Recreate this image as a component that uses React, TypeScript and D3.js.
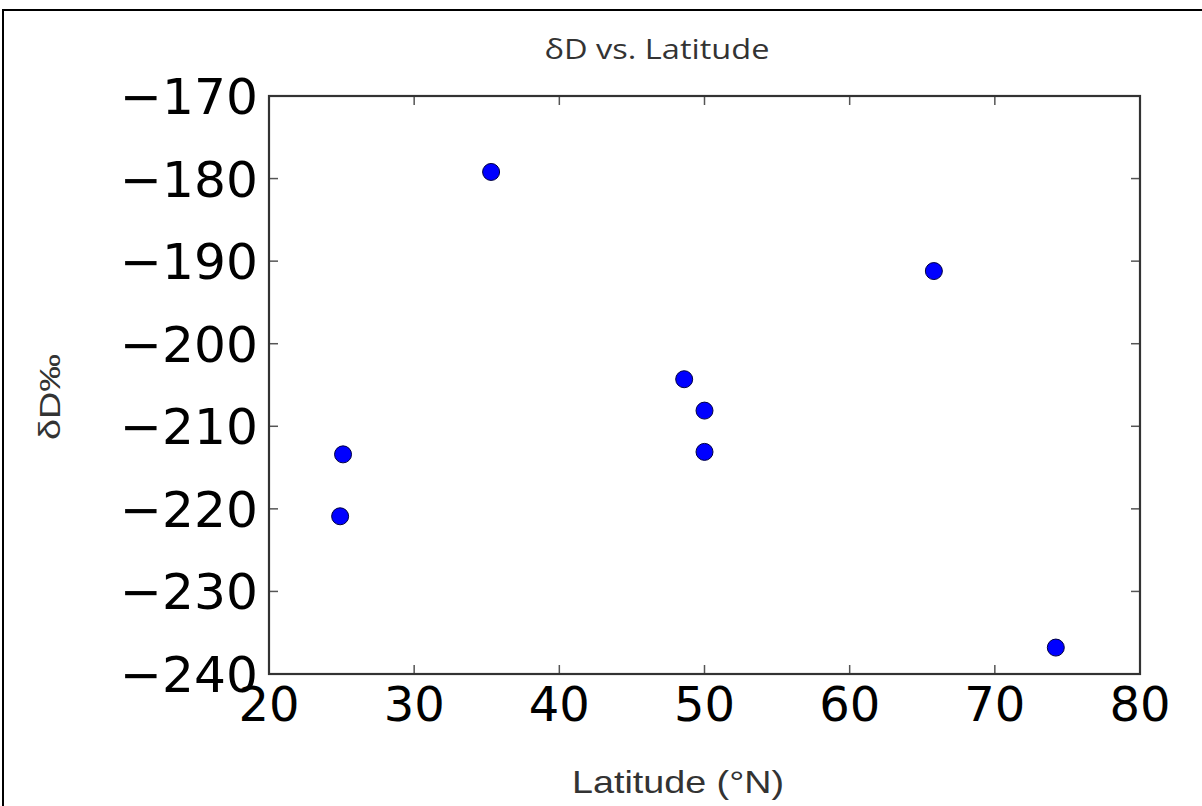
import React from "react";
import * as d3 from "d3";

const latitude = [35.3, 65.8, 48.6, 50.0, 50.0, 25.1, 24.9, 74.2];
const deltaD = [-179.2, -191.2, -204.3, -208.1, -213.1, -213.4, -220.9, -236.8];
const xTicks = [20, 30, 40, 50, 60, 70, 80];
const yTicks = [-170, -180, -190, -200, -210, -220, -230, -240];
const title = "δD vs. Latitude";
const xLabel = "Latitude (°N)";
const yLabel = "δD‰";

const W = 1202;
const H = 806;
const left = 269;
const right = 1140;
const top = 96;
const bottom = 674;

export default function App() {
  const x = d3.scaleLinear().domain([20, 80]).range([left, right]);
  const y = d3.scaleLinear().domain([-240, -170]).range([bottom, top]);
  const tickLen = 9;
  const fmt = (v: number) => (v < 0 ? "\u2212" + Math.abs(v) : String(v));
  return (
    <svg
      width={W}
      height={H}
      style={{ position: "absolute", left: 0, top: 0, background: "#fff" }}
    >
      <rect x={0} y={0} width={W} height={H} fill="#fff" />
      {/* outer frame */}
      <line x1={2} y1={10} x2={W} y2={10} stroke="#000" strokeWidth={2} />
      <line x1={3} y1={10} x2={3} y2={H} stroke="#000" strokeWidth={2} />

      <text
        x={657}
        y={59}
        textAnchor="middle"
        fontFamily="'Open Sans', sans-serif"
        fontSize={27}
        fill="#333"
        textLength={225}
        lengthAdjust="spacingAndGlyphs"
      >
        {title}
      </text>

      {/* ticks */}
      {xTicks.map((t) => (
        <g key={"xt" + t}>
          <line x1={x(t)} x2={x(t)} y1={bottom} y2={bottom - tickLen} stroke="#555" strokeWidth={1.5} />
          <line x1={x(t)} x2={x(t)} y1={top} y2={top + tickLen} stroke="#555" strokeWidth={1.5} />
          <text
            x={x(t)}
            y={721}
            textAnchor="middle"
            fontFamily="'DejaVu Sans', sans-serif"
            fontSize={48}
            fill="#000"
          >
            {fmt(t)}
          </text>
        </g>
      ))}
      {yTicks.map((t) => (
        <g key={"yt" + t}>
          <line x1={left} x2={left + tickLen} y1={y(t)} y2={y(t)} stroke="#555" strokeWidth={1.5} />
          <line x1={right} x2={right - tickLen} y1={y(t)} y2={y(t)} stroke="#555" strokeWidth={1.5} />
          <text
            x={258}
            y={y(t) + 18}
            textAnchor="end"
            fontFamily="'DejaVu Sans', sans-serif"
            fontSize={50}
            fill="#000"
            textLength={138}
            lengthAdjust="spacingAndGlyphs"
          >
            {fmt(t)}
          </text>
        </g>
      ))}

      <rect
        x={left}
        y={top}
        width={right - left}
        height={bottom - top}
        fill="none"
        stroke="#333"
        strokeWidth={2.2}
      />

      {latitude.map((lat, i) => (
        <circle
          key={"p" + i}
          cx={x(lat)}
          cy={y(deltaD[i])}
          r={8.5}
          fill="#0000ff"
          stroke="#000040"
          strokeWidth={1}
        />
      ))}

      <text
        x={678}
        y={793}
        textAnchor="middle"
        fontFamily="'Liberation Sans', Arial, sans-serif"
        fontSize={32}
        fill="#333"
        textLength={212}
        lengthAdjust="spacingAndGlyphs"
      >
        {xLabel}
      </text>
      <text
        transform={`translate(60, 397) rotate(-90)`}
        textAnchor="middle"
        fontFamily="'Liberation Sans', Arial, sans-serif"
        fontSize={30}
        fill="#333"
        textLength={86}
        lengthAdjust="spacingAndGlyphs"
      >
        {yLabel}
      </text>
    </svg>
  );
}
